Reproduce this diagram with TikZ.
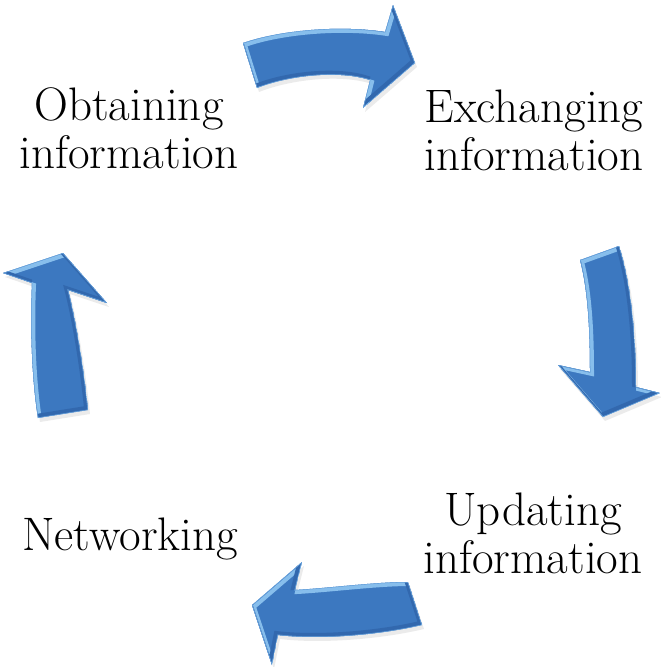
\documentclass[tikz,border=0pt]{standalone}
\definecolor{arrowblue}{RGB}{60,120,192}
\definecolor{bevelhi}{RGB}{135,190,236}
\definecolor{bevello}{RGB}{50,104,174}
\definecolor{bevelrim}{RGB}{110,168,224}

% Block-arrow outlines (1 unit = 1pt, y grows downwards)
\def\arrowtop{(243,43) .. controls (280,30) and (340,25) .. (385,32) -- (393,5) -- (415,63) -- (363,108) -- (370,80) .. controls (340,70) and (290,75) .. (257,88) -- cycle}
\def\arrowright{(580,260) -- (619,246) .. controls (630,280) and (636,330) .. (636,387) -- (660,393) -- (603,417) -- (558,365) -- (590,372) .. controls (590,330) and (588,290) .. cycle}
\def\arrowbottom{(252,605) -- (302,562) -- (295,590) .. controls (330,588) and (375,582) .. (408,582) -- (422,625) .. controls (380,635) and (320,640) .. (278,635) -- (272,665) -- cycle}
\def\arrowleft{(38,418) .. controls (32,380) and (30,330) .. (32,283) -- (3,273) -- (63,253) -- (107,303) -- (68,290) .. controls (76,320) and (84,370) .. (88,410) -- cycle}

% Bevelled blue block arrow
\newcommand{\bevelarrow}[1]{%
  \fill[arrowshadow, shift={(2,4)}] #1;
  \begin{scope}
    \clip #1;
    \fill[arrowblue] #1;
    \draw[line width=4pt, bevelhi, shift={(2,2)}] #1;
    \draw[line width=4pt, bevello, shift={(-2,-2)}] #1;
    \draw[line width=1pt, bevelrim] #1;
  \end{scope}
}

\begin{document}
\begin{tikzpicture}[x=1pt, y=-1pt,
  cycletext/.style={font=\fontsize{47}{52}\selectfont, inner sep=0pt, anchor=base},
  arrowshadow/.style={fill=black, opacity=0.08}]
\useasboundingbox (0,0) rectangle (661,667);

% Stage labels
\node[cycletext] (obtain1) at (129,120) {Obtaining};
\node[cycletext] (obtain2) at (129,168) {information};
\node[cycletext] (exch1) at (534,122) {Exchanging};
\node[cycletext] (exch2) at (534,170) {information};
\node[cycletext] (upd1) at (533,525) {Updating};
\node[cycletext] (upd2) at (533,573) {information};
\node[cycletext] (net) at (130,550) {Networking};

% Cycle arrows
\bevelarrow{\arrowtop}
\bevelarrow{\arrowright}
\bevelarrow{\arrowbottom}
\bevelarrow{\arrowleft}
\end{tikzpicture}
\end{document}
